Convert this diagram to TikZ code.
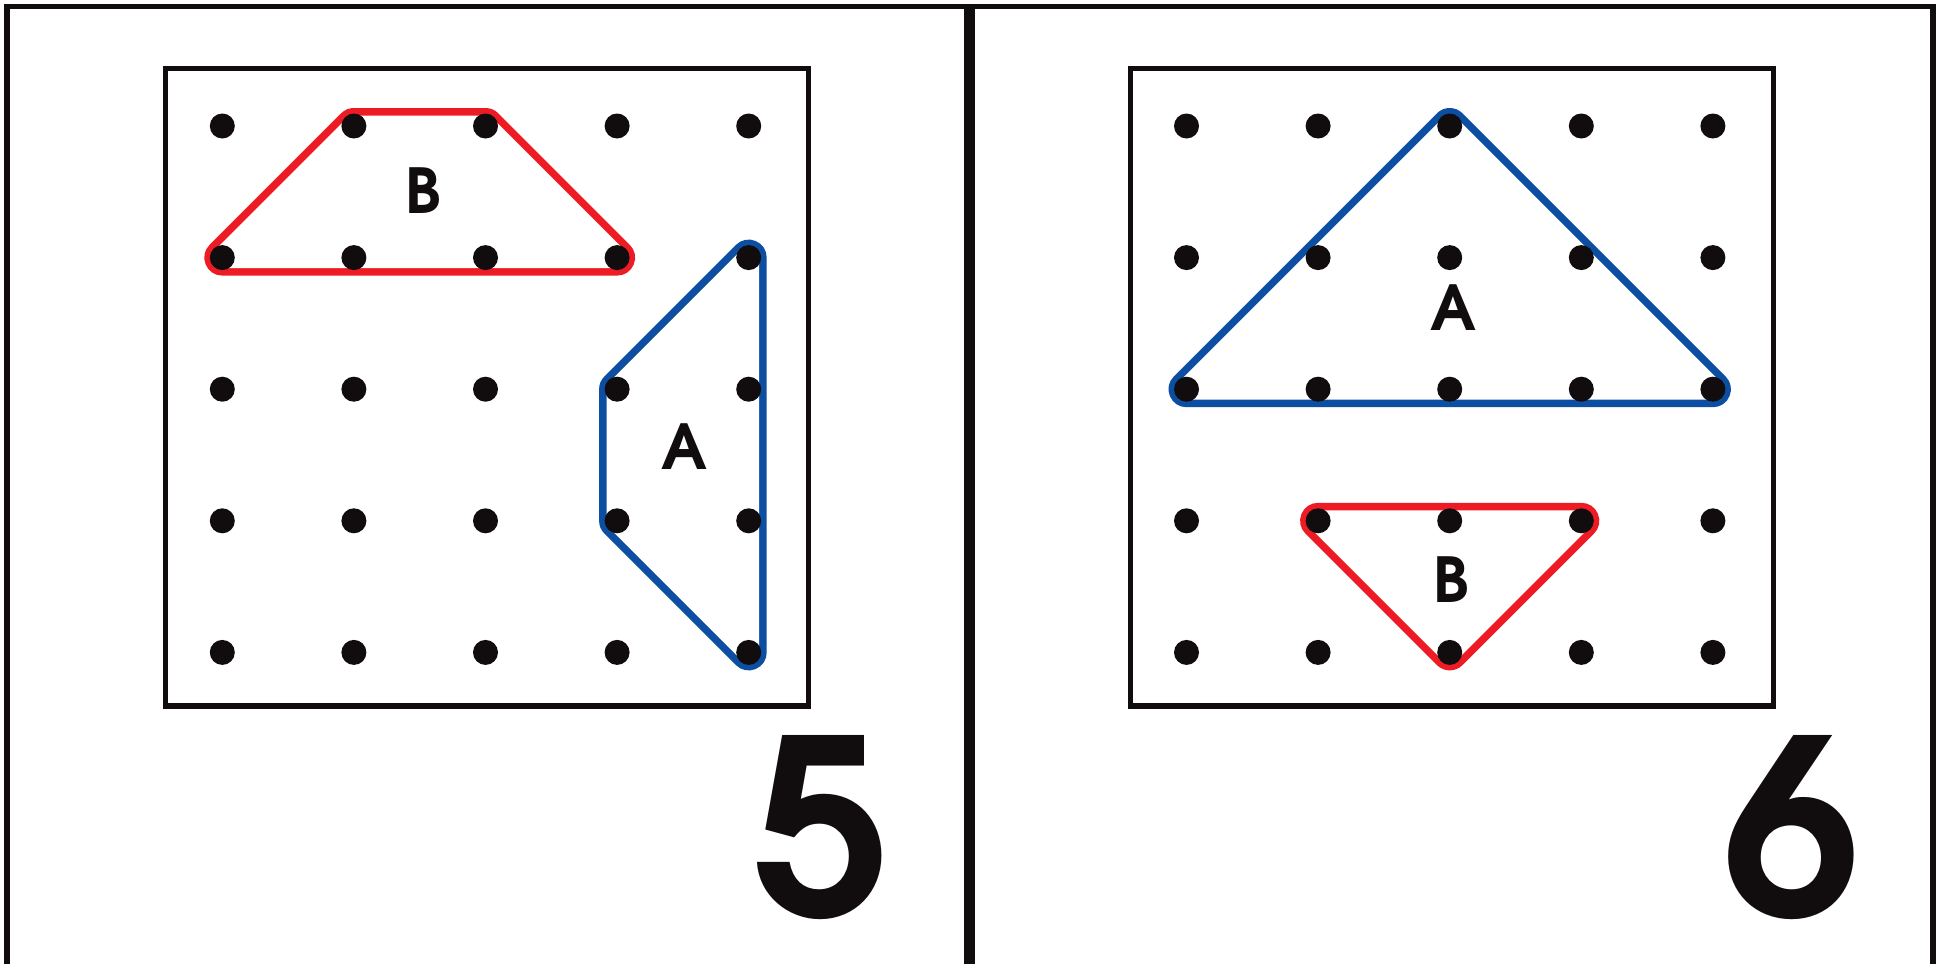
\documentclass[tikz,border=0pt]{standalone}
\usepackage{fontspec}
\setmainfont{Poppins}
\newfontfamily\geo{TeX Gyre Adventor}
\definecolor{ink}{HTML}{110D0E}
\definecolor{bandred}{HTML}{ED1C24}
\definecolor{bandblue}{HTML}{0B4EA2}
\tikzset{
  frameline/.style={draw=ink, line width=5.5pt},
  divider/.style={draw=ink, line width=10.5pt},
  peg/.style={circle, fill=ink, inner sep=0pt, minimum size=25pt},
  bandouter/.style={draw=#1, fill=#1, line width=36pt, line join=round},
  bandinner/.style={draw=white, fill=white, line width=21pt, line join=round},
  lbl/.style={font=\geo\fontsize{62}{62}\selectfont\bfseries, text=ink, inner sep=0pt},
  num/.style={font=\geo\fontsize{245}{245}\selectfont\bfseries, text=ink, inner sep=0pt, anchor=base}
}
\begin{document}
\begin{tikzpicture}[x=1pt,y=-1pt]
\useasboundingbox (0,0) rectangle (1942,964);
\fill[white] (0,0) rectangle (1942,964);
% outer frame
\draw[frameline] (7,964) -- (7,6.7) -- (1933,6.7) -- (1933,964);
\draw[divider] (969.7,4) -- (969.7,964);
% inner boards
\draw[frameline] (165.5,68.3) rectangle (808.7,706.2);
\draw[frameline] (1130.5,68.3) rectangle (1773.5,706.2);
% peg coordinates
\foreach \i in {0,...,4}{
  \foreach \j in {0,...,4}{
    \coordinate (L\i\j) at ({222.3+131.6*\i},{126+131.6*\j});
    \coordinate (R\i\j) at ({1186.5+131.6*\i},{126+131.6*\j});
  }
}
% bands, panel 5
\path[bandouter=bandred] (L10) -- (L20) -- (L31) -- (L01) -- cycle;
\path[bandinner] (L10) -- (L20) -- (L31) -- (L01) -- cycle;
\path[bandouter=bandblue] (L41) -- (L44) -- (L33) -- (L32) -- cycle;
\path[bandinner] (L41) -- (L44) -- (L33) -- (L32) -- cycle;
% bands, panel 6
\path[bandouter=bandblue] (R02) -- (R20) -- (R42) -- cycle;
\path[bandinner] (R02) -- (R20) -- (R42) -- cycle;
\path[bandouter=bandred] (R13) -- (R33) -- (R24) -- cycle;
\path[bandinner] (R13) -- (R33) -- (R24) -- cycle;
% pegs
\foreach \i in {0,...,4}{
  \foreach \j in {0,...,4}{
    \node[peg] (pL\i\j) at (L\i\j) {};
    \node[peg] (pR\i\j) at (R\i\j) {};
  }
}
% labels
\node[lbl] (lB5) at (423.8,190.8) {B};
\node[lbl] (lA5) at (684.2,446.3) {A};
\node[lbl] (lA6) at (1453,308) {A};
\node[lbl] (lB6) at (1451.5,580) {B};
% numbers
\node[num] (n5) at (822.8,916.7) {5};
\node[num] (n6) at (1791.7,916.7) {6};
\end{tikzpicture}
\end{document}
